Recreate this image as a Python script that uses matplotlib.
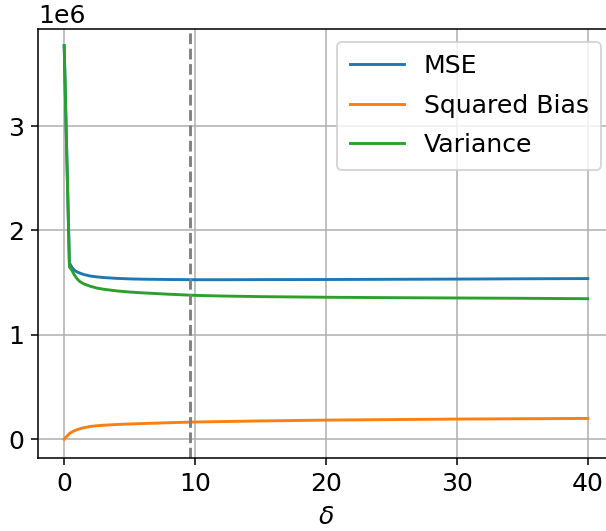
import matplotlib
matplotlib.use("Agg")
import matplotlib.pyplot as plt

plt.rcParams['font.size'] = 13

# values, in units of 1e6
delta = [0, 0.4, 0.6, 0.8, 1.0, 1.2, 1.5, 2, 2.5, 3, 4, 5, 6, 8, 10, 12, 15, 20, 25, 30, 35, 40]
mse = [3.77, 1.69, 1.645, 1.617, 1.602, 1.591, 1.578, 1.563, 1.555, 1.549, 1.541, 1.536,
       1.533, 1.530, 1.528, 1.528, 1.529, 1.530, 1.532, 1.534, 1.537, 1.539]
variance = [3.77, 1.65, 1.615, 1.57, 1.535, 1.51, 1.488, 1.465, 1.448, 1.437, 1.421, 1.410,
            1.402, 1.389, 1.378, 1.372, 1.366, 1.360, 1.356, 1.353, 1.350, 1.346]
bias = [0.0, 0.055, 0.07, 0.082, 0.092, 0.10, 0.11, 0.122, 0.129, 0.134, 0.141, 0.146,
        0.150, 0.158, 0.165, 0.169, 0.175, 0.183, 0.188, 0.193, 0.196, 0.199]
delta_opt = 9.6

scale = 1e6
fig = plt.figure(figsize=(606/139, 531/139), dpi=139)
# right spine falls just outside the picture, as in the reference
ax = fig.add_axes([38/606, 1-458/531, 576/606, 429/531])
ax.plot(delta, [m*scale for m in mse], label="MSE")
ax.plot(delta, [b*scale for b in bias], label="Squared Bias")
ax.plot(delta, [v*scale for v in variance], label="Variance")
ax.axvline(delta_opt, color="gray", linestyle="--")
ax.set_xlim(-2, 42)
ax.set_ylim(-0.18e6, 3.93e6)
ax.set_xlabel(r"$\delta$", labelpad=5)
ax.grid(True)
ax.legend(loc="upper right", labelspacing=0.62, borderpad=0.5, handlelength=2.15)
fig.savefig("out.png", dpi=139)
